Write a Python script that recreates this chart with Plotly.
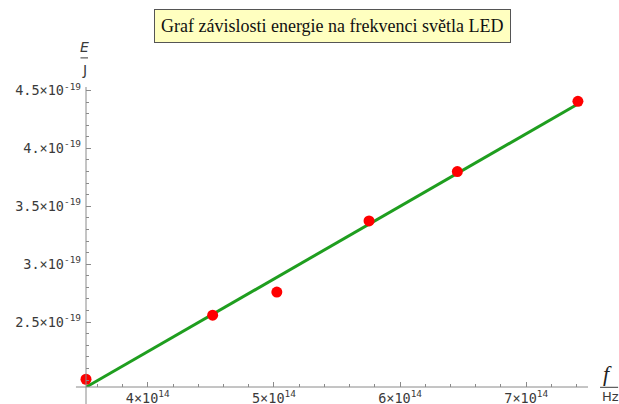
import numpy as np
import plotly.graph_objects as go

# data
freq = [3.51e14, 4.514e14, 5.023e14, 5.754e14, 6.454e14, 7.41e14]
energy = [2.007e-19, 2.56e-19, 2.76e-19, 3.374e-19, 3.80e-19, 4.406e-19]

x_tickvals = [4e14, 5e14, 6e14, 7e14]
x_ticktext = ["4×10<sup>14</sup>", "5×10<sup>14</sup>", "6×10<sup>14</sup>", "7×10<sup>14</sup>"]
y_tickvals = [2.5e-19, 3.0e-19, 3.5e-19, 4.0e-19, 4.5e-19]
y_ticktext = ["2.5×10<sup>-19</sup>", "3.×10<sup>-19</sup>", "3.5×10<sup>-19</sup>",
              "4.×10<sup>-19</sup>", "4.5×10<sup>-19</sup>"]

title_text = "Graf závislosti energie na frekvenci světla LED"

# linear fit
k, q = np.polyfit(freq, energy, 1)
fit_x = [min(freq), max(freq)]
fit_y = [k * v + q for v in fit_x]

axis_col = "#8a8a8a"
lab_col = "#3a3a3a"
mono = "DejaVu Sans Mono"

fig = go.Figure()
fig.add_trace(go.Scatter(x=fit_x, y=fit_y, mode="lines",
                         line=dict(color="#1f9e1f", width=3), cliponaxis=False))
fig.add_trace(go.Scatter(x=freq, y=energy, mode="markers",
                         marker=dict(color="#ff0000", size=11), cliponaxis=False))

fig.update_layout(
    width=619, height=404,
    margin=dict(l=85.5, r=31, t=87, b=17.3, autoexpand=False),
    paper_bgcolor="white", plot_bgcolor="white",
    showlegend=False,
    xaxis=dict(range=[3.51e14, 7.49e14], showgrid=False, zeroline=False, showline=False,
               automargin=False,
               tickvals=x_tickvals, ticktext=x_ticktext, ticks="inside", ticklen=5,
               tickcolor=axis_col, tickwidth=1,
               minor=dict(tick0=4e14, dtick=0.2e14, ticks="inside", ticklen=3,
                          tickcolor=axis_col, tickwidth=1, showgrid=False),
               tickfont=dict(family=mono, size=13.5, color=lab_col), ticklabelstandoff=1),
    yaxis=dict(range=[1.94e-19, 4.53e-19], showgrid=False, zeroline=False, showline=False,
               automargin=False,
               tickvals=y_tickvals, ticktext=y_ticktext, ticks="inside", ticklen=5,
               tickcolor=axis_col, tickwidth=1,
               minor=dict(tick0=4e-19, dtick=0.1e-19, ticks="inside", ticklen=3,
                          tickcolor=axis_col, tickwidth=1, showgrid=False),
               tickfont=dict(family=mono, size=13.5, color=lab_col), ticklabelstandoff=4),
)

# axes lines (extended slightly past their crossing like the reference)
fig.add_shape(type="line", xref="paper", yref="paper", x0=-0.02, x1=1.0, y0=0, y1=0,
              line=dict(color=axis_col, width=1))
fig.add_shape(type="line", xref="paper", yref="paper", x0=0, x1=0, y0=-0.06, y1=1.0,
              line=dict(color=axis_col, width=1))

def label(text, x, y, family, size, color=lab_col):
    fig.add_annotation(text=text, xref="paper", yref="paper", x=x, y=y,
                       xanchor="center", yanchor="middle", showarrow=False,
                       font=dict(family=family, size=size, color=color))

# axis labels E/J and f/Hz
label("<i>E</i>", -0.003, 1.1335, "DejaVu Sans", 14)
fig.add_shape(type="line", xref="paper", yref="paper", x0=-0.011, x1=0.004, y0=1.097, y1=1.097,
              line=dict(color=lab_col, width=1))
label("J", -0.003, 1.057, "DejaVu Sans", 14)

label("<i>f</i>", 1.0398, 0.0457, "Liberation Serif", 22, "#222")
fig.add_shape(type="line", xref="paper", yref="paper", x0=1.024, x1=1.06, y0=-0.001, y1=-0.001,
              line=dict(color=lab_col, width=1))
label("Hz", 1.044, -0.031, "DejaVu Sans", 13)

# title box
fig.add_annotation(text=title_text, xref="paper", yref="paper", x=0.4905, y=1.2035,
                   xanchor="center", yanchor="middle",
                   showarrow=False, bgcolor="#ffffc0", bordercolor="#555555", borderwidth=1,
                   borderpad=6, font=dict(family="Liberation Serif", size=18, color="#111"))

fig.write_html("out.html", config={"displayModeBar": False},
               post_script="document.body.style.margin='0';document.body.style.padding='0';")
